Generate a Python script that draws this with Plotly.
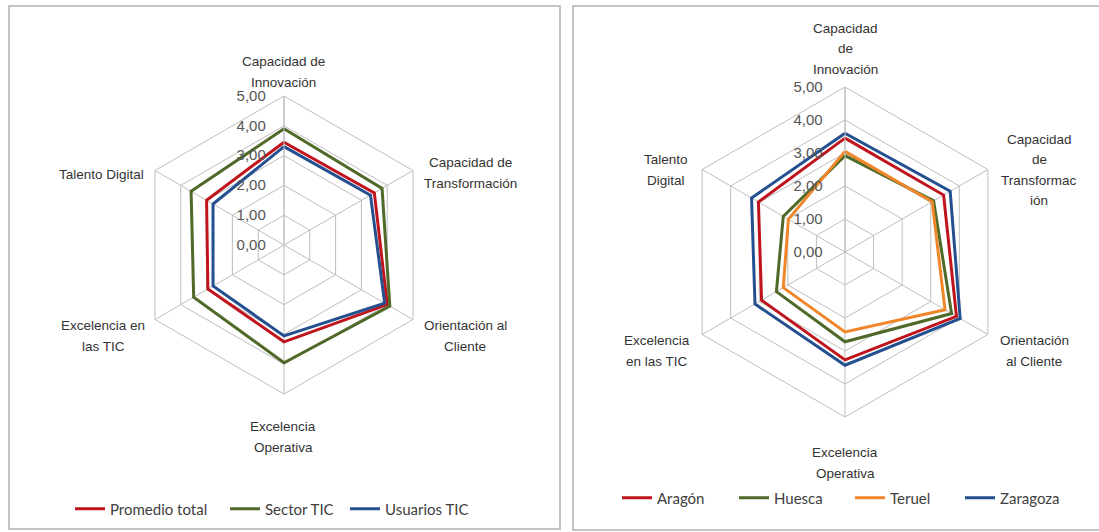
import plotly.graph_objects as go

W, H = 1099, 532

categories = ["Capacidad de Innovación", "Capacidad de Transformación", "Orientación al Cliente",
              "Excelencia Operativa", "Excelencia en las TIC", "Talento Digital"]

labels_left = ["Capacidad de<br>Innovación", "Capacidad de<br>Transformación", "Orientación al<br>Cliente",
               "Excelencia<br>Operativa", "Excelencia en<br>las TIC", "Talento Digital"]
labels_right = ["Capacidad<br>de<br>Innovación", "Capacidad<br>de<br>Transformac<br>ión", "Orientación<br>al Cliente",
                "Excelencia<br>Operativa", "Excelencia<br>en las TIC", "Talento<br>Digital"]

# Left chart series
promedio_total = [3.45, 3.50, 4.00, 3.25, 2.95, 3.00]
sector_tic = [3.90, 3.80, 4.10, 3.95, 3.50, 3.60]
usuarios_tic = [3.30, 3.35, 3.90, 3.05, 2.75, 2.75]

# Right chart series
aragon = [3.45, 3.45, 3.90, 3.27, 2.92, 3.03]
huesca = [2.92, 3.10, 3.73, 2.72, 2.40, 2.16]
teruel = [3.05, 3.05, 3.50, 2.42, 2.16, 1.98]
zaragoza = [3.60, 3.68, 4.03, 3.43, 3.15, 3.27]

RED = "#C0141C"
GREEN = "#4F6A28"
BLUE = "#24508F"
ORANGE = "#F0862A"
GRID = "#BEBEBE"
TXT = "#333333"

left_series = [("Promedio total", promedio_total, RED),
               ("Sector TIC", sector_tic, GREEN),
               ("Usuarios TIC", usuarios_tic, BLUE)]
right_series = [("Aragón", aragon, RED),
                ("Huesca", huesca, GREEN),
                ("Teruel", teruel, ORANGE),
                ("Zaragoza", zaragoza, BLUE)]

# layout helpers (pixel positions of label blocks and legend entries)
left_label_pos = [(283, 72), (470, 173), (465, 336), (283, 437), (103, 336), (101, 174)]
right_label_pos = [(845, 49), (1039, 170), (1034, 351), (845, 463), (657, 351), (666, 170)]
left_legend_x = [70, 225, 345]
right_legend_x = [617, 734, 850, 960]
LINE_SP = 20.5

fig = go.Figure()

def closed(v):
    return list(v) + [v[0]]

legend_names = []
idx = 1
for (name, vals, color), lx in zip(left_series, left_legend_x):
    lg = "legend" if idx == 1 else f"legend{idx}"
    legend_names.append((lg, lx, 509))
    fig.add_trace(go.Scatterpolar(r=closed(vals), theta=closed(categories), mode="lines",
                                  name=name, line=dict(color=color, width=3),
                                  subplot="polar", legend=lg, showlegend=True))
    idx += 1
for (name, vals, color), lx in zip(right_series, right_legend_x):
    lg = f"legend{idx}"
    legend_names.append((lg, lx, 498))
    fig.add_trace(go.Scatterpolar(r=closed(vals), theta=closed(categories), mode="lines",
                                  name=name, line=dict(color=color, width=3),
                                  subplot="polar2", legend=lg, showlegend=True))
    idx += 1

def polar_cfg(cx, cy, R, suffix):
    return dict(
        domain=dict(x=[(cx - R) / W, (cx + R) / W], y=[1 - (cy + R) / H, 1 - (cy - R) / H]),
        bgcolor="white",
        gridshape="linear",
        angularaxis=dict(direction="clockwise", rotation=90, showline=True, linecolor=GRID,
                         linewidth=1, gridcolor=GRID, gridwidth=1, ticks="",
                         showticklabels=False),
        radialaxis=dict(range=[0, 5], dtick=1, tick0=0, tickformat=".2f", angle=90, tickangle=90,
                        showline=True, linecolor=GRID, linewidth=1, gridcolor=GRID, gridwidth=1,
                        ticks="", side="counterclockwise", ticksuffix=suffix,
                        tickfont=dict(family="Liberation Sans", size=15, color="#555555")),
    )

annotations = []
for labels, positions in ((labels_left, left_label_pos), (labels_right, right_label_pos)):
    for lab, (x, y) in zip(labels, positions):
        lines = lab.split("<br>")
        n = len(lines)
        for k, line in enumerate(lines):
            yy = y + (k - (n - 1) / 2) * LINE_SP
            annotations.append(dict(text=line, x=x / W, y=1 - yy / H, xref="paper", yref="paper",
                                    xanchor="center", yanchor="middle", showarrow=False,
                                    font=dict(family="Liberation Sans", size=13.5, color=TXT)))

layout = dict(
    width=W, height=H, autosize=False,
    margin=dict(l=0, r=0, t=0, b=0),
    paper_bgcolor="white", plot_bgcolor="white",
    separators=",.",
    showlegend=True,
    polar=polar_cfg(284, 245, 149, "\u00a0\u00a0\u00a0"),
    polar2=polar_cfg(845, 252, 165, "\u00a0\u00a0\u00a0\u00a0"),
    annotations=annotations,
    shapes=[
        dict(type="rect", xref="paper", yref="paper", x0=9 / W, x1=560 / W, y0=1 - 529 / H, y1=1 - 6 / H,
             line=dict(color="#C4C4C4", width=2), layer="below"),
        dict(type="rect", xref="paper", yref="paper", x0=573 / W, x1=1110 / W, y0=1 - 530 / H, y1=1 - 6 / H,
             line=dict(color="#C4C4C4", width=2), layer="below"),
    ],
)
for lg, lx, ly in legend_names:
    layout[lg] = dict(orientation="h", x=lx / W, y=1 - ly / H, xanchor="left", yanchor="middle",
                      font=dict(family="Lato", size=15, color="#404040"), bgcolor="rgba(0,0,0,0)",
                      itemwidth=30)
fig.update_layout(**layout)

fig.write_html("out.html")
